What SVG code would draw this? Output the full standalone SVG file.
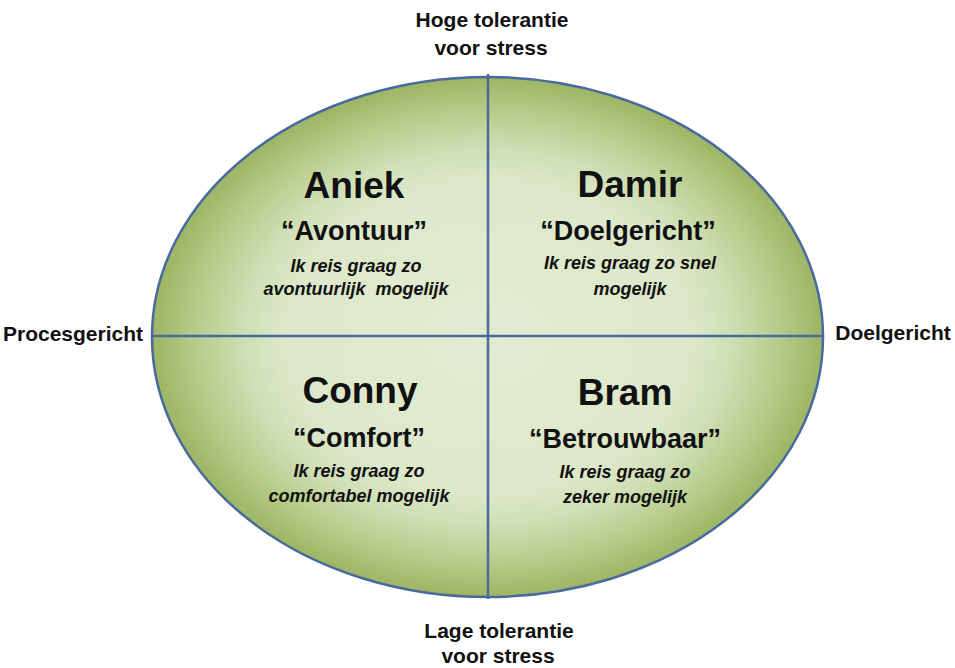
<svg xmlns="http://www.w3.org/2000/svg" width="955" height="668" viewBox="0 0 955 668">
<defs>
<radialGradient id="g" cx="0.5" cy="0.5" r="0.5">
<stop offset="0" stop-color="#e2ecd3"/>
<stop offset="0.6" stop-color="#dde8ca"/>
<stop offset="0.72" stop-color="#d0dfb6"/>
<stop offset="0.86" stop-color="#b8cd8c"/>
<stop offset="1" stop-color="#9db564"/>
</radialGradient>
<style>
text{font-family:"Liberation Sans",Arial,sans-serif;font-weight:bold;fill:#111;text-anchor:middle}
.ax{font-size:21px}
.nm{font-size:37px}
.qt{font-size:27px}
.it{font-size:18px;font-style:italic}
.ln{stroke:#4a6a9e;stroke-width:2.5;fill:none}
</style>
</defs>
<rect width="955" height="668" fill="#fff"/>
<g id="ellipse">
<ellipse cx="487.5" cy="337" rx="335.5" ry="260" fill="url(#g)" stroke="#4a6a9e" stroke-width="2.5"/>
</g>
<g id="connectors">
<line class="ln" x1="488" y1="74" x2="488" y2="599"/>
<line class="ln" x1="152" y1="336" x2="823" y2="336"/>
</g>
<g id="axis-top">
<text class="ax" x="492" y="27">Hoge tolerantie</text>
<text class="ax" x="491" y="55">voor stress</text>
</g>
<g id="axis-bottom">
<text class="ax" x="499" y="638">Lage tolerantie</text>
<text class="ax" x="498" y="663">voor stress</text>
</g>
<g id="axis-left">
<text class="ax" x="73" y="341">Procesgericht</text>
</g>
<g id="axis-right">
<text class="ax" x="893" y="340">Doelgericht</text>
</g>
<g id="aniek">
<text class="nm" x="354" y="198">Aniek</text>
<text class="qt" x="354" y="240">“Avontuur”</text>
<text class="it" x="356" y="272">Ik reis graag zo</text>
<text class="it" x="356" y="295" xml:space="preserve">avontuurlijk  mogelijk</text>
</g>
<g id="damir">
<text class="nm" x="630" y="197">Damir</text>
<text class="qt" x="628" y="240">“Doelgericht”</text>
<text class="it" x="630" y="269">Ik reis graag zo snel</text>
<text class="it" x="630" y="295">mogelijk</text>
</g>
<g id="conny">
<text class="nm" x="360" y="403">Conny</text>
<text class="qt" x="359" y="447">“Comfort”</text>
<text class="it" x="359" y="477">Ik reis graag zo</text>
<text class="it" x="359" y="502">comfortabel mogelijk</text>
</g>
<g id="bram">
<text class="nm" x="625" y="405">Bram</text>
<text class="qt" x="625" y="448">“Betrouwbaar”</text>
<text class="it" x="625" y="478">Ik reis graag zo</text>
<text class="it" x="625" y="503">zeker mogelijk</text>
</g>
</svg>
